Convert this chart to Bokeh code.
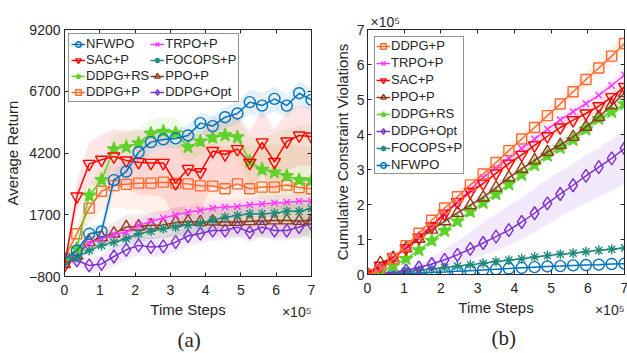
import numpy as np
from bokeh.plotting import figure
from bokeh.models import (Legend, LegendItem, FixedTicker, Title, LinearAxis,
                          Range1d, CustomJSTickFormatter)
from bokeh.layouts import row
from bokeh.embed import file_html
from bokeh.resources import INLINE

FONT = "Liberation Sans"
SERIF = "Liberation Serif"
AX = "#262626"

# ---------------- data ----------------
steps = [0, 35000, 70000, 105000, 140000, 175000, 210000, 245000, 280000, 315000,
         350000, 385000, 420000, 455000, 490000, 525000, 560000, 595000, 630000,
         665000, 700000]
x_ticks = [0, 100000, 200000, 300000, 400000, 500000, 600000, 700000]
x_tick_labels = ["0", "1", "2", "3", "4", "5", "6", "7"]
ret_ticks = [-800, 1700, 4200, 6700, 9200]
viol_ticks = [0, 1, 2, 3, 4, 5, 6, 7]

# (a) Average return
ret_nfwpo = [-100, 250, 930, 1020, 3100, 3450, 4230, 4640, 4750, 4790, 4910, 5410, 5290,
             5650, 5800, 6260, 6120, 6390, 6120, 6620, 6350]
ret_sac = [-350, 2440, 3760, 3930, 4060, 3900, 3830, 3800, 3800, 2980, 3560, 3420, 4280,
           4140, 4360, 3800, 4630, 3840, 4670, 4910, 4870]
ret_ddpgrs = [-150, 330, 2480, 3110, 4360, 4440, 4600, 4990, 5070, 5010, 4440, 4670, 4830,
              4920, 4840, 3860, 3530, 3420, 3270, 3110, 3090]
ret_ddpgp = [-50, 930, 1970, 2650, 2880, 2930, 2980, 2980, 3020, 2980, 2950, 2870, 2860,
             2750, 2950, 2750, 2820, 2820, 2900, 2800, 2750]
ret_trpo = [-200, 250, 540, 740, 900, 990, 1270, 1430, 1570, 1690, 1800, 1870, 1970, 2010,
            2030, 2100, 2140, 2180, 2210, 2250, 2250]
ret_focops = [-250, -30, 250, 460, 590, 730, 930, 1030, 1130, 1200, 1290, 1350, 1490, 1600,
              1670, 1740, 1740, 1760, 1840, 1840, 1940]
ret_ppo = [-300, 50, 590, 790, 940, 1200, 1220, 1270, 1290, 1390, 1430, 1410, 1430, 1410,
           1410, 1440, 1450, 1470, 1470, 1450, 1470]
ret_opt = [-200, -150, -350, -290, 10, 280, 460, 390, 420, 590, 840, 940, 1060, 1060, 1200,
           990, 1200, 1060, 1060, 1200, 1330]

sd_nfwpo = [50, 150, 300, 350, 450, 450, 450, 450, 400, 400, 400, 450, 400, 450, 450, 500,
            500, 500, 450, 500, 450]
sd_sac = [100, 600, 900, 1000, 1100, 1200, 1300, 1300, 1400, 1400, 1500, 1500, 1400, 1400,
          1400, 1300, 1300, 1300, 1200, 1200, 1200]
sd_ddpgrs = [100, 300, 500, 600, 600, 600, 600, 600, 600, 600, 600, 600, 600, 700, 800, 1000,
             1300, 1600, 1900, 2200, 2300]
sd_ddpgp = [100, 300, 600, 800, 900, 1000, 1100, 1200, 1300, 1500, 1600, 1700, 1700, 1700,
            1700, 1700, 1700, 1700, 1700, 1700, 1700]
sd_trpo = [100, 150, 200, 250, 250, 300, 300, 300, 300, 300, 300, 300, 300, 300, 300, 300,
           300, 300, 300, 300, 300]
sd_focops = [100, 150, 200, 250, 300, 300, 350, 350, 350, 350, 400, 400, 400, 400, 400, 400,
             400, 400, 400, 400, 400]
sd_ppo = [100, 200, 300, 400, 450, 500, 500, 550, 550, 600, 600, 600, 600, 600, 600, 600,
          650, 650, 700, 700, 700]
sd_opt = [100, 200, 300, 350, 400, 400, 400, 400, 400, 400, 400, 400, 400, 400, 400, 400,
          400, 400, 400, 400, 400]

# (b) Cumulative constraint violations (x 1e5)
viol_ddpgp = [0, 0.1, 0.45, 0.82, 1.18, 1.55, 1.9, 2.22, 2.56, 2.87, 3.2, 3.54, 3.87, 4.2,
              4.54, 4.87, 5.22, 5.57, 5.9, 6.24, 6.6]
viol_trpo = [0, 0.2, 0.47, 0.75, 1.07, 1.4, 1.75, 2.05, 2.42, 2.77, 3.05, 3.32, 3.6, 3.87,
             4.15, 4.42, 4.65, 4.88, 5.12, 5.4, 5.7]
viol_sac = [0, 0.25, 0.5, 0.75, 1.05, 1.38, 1.74, 2.07, 2.36, 2.6, 2.89, 3.17, 3.42, 3.69,
            3.95, 4.2, 4.41, 4.6, 4.81, 5.07, 5.36]
viol_ppo = [0, 0.33, 0.48, 0.75, 1.02, 1.28, 1.52, 1.76, 1.98, 2.2, 2.48, 2.77, 3.02, 3.26,
            3.5, 3.7, 3.93, 4.22, 4.5, 4.84, 5.18]
viol_ddpgrs = [0, 0.08, 0.25, 0.45, 0.7, 0.97, 1.25, 1.52, 1.8, 2.05, 2.3, 2.58, 2.85, 3.13,
               3.4, 3.62, 3.85, 4.15, 4.45, 4.65, 4.87]
viol_opt = [0, 0.02, 0.06, 0.12, 0.2, 0.3, 0.42, 0.56, 0.73, 0.9, 1.08, 1.27, 1.5, 1.75, 2.03,
            2.3, 2.55, 2.82, 3.07, 3.32, 3.6]
viol_focops = [0, 0.02, 0.05, 0.08, 0.12, 0.16, 0.2, 0.24, 0.28, 0.32, 0.37, 0.41, 0.45, 0.5,
               0.54, 0.58, 0.61, 0.65, 0.69, 0.72, 0.76]
viol_nfwpo = [0, 0.01, 0.02, 0.03, 0.04, 0.06, 0.07, 0.09, 0.11, 0.13, 0.15, 0.17, 0.19, 0.21,
              0.23, 0.24, 0.26, 0.27, 0.28, 0.3, 0.31]

vsd_ddpgp = [0, 0.03, 0.05, 0.07, 0.09, 0.1, 0.12, 0.13, 0.14, 0.15, 0.16, 0.17, 0.18, 0.19,
             0.2, 0.21, 0.22, 0.23, 0.24, 0.25, 0.26]
vsd_trpo = [0, 0.02, 0.04, 0.05, 0.06, 0.07, 0.08, 0.09, 0.1, 0.1, 0.11, 0.11, 0.12, 0.12,
            0.13, 0.13, 0.14, 0.14, 0.15, 0.15, 0.16]
vsd_sac = [0, 0.03, 0.05, 0.06, 0.07, 0.08, 0.09, 0.1, 0.11, 0.12, 0.12, 0.13, 0.13, 0.14,
           0.14, 0.15, 0.15, 0.16, 0.16, 0.17, 0.17]
vsd_ppo = [0, 0.03, 0.05, 0.06, 0.07, 0.08, 0.09, 0.1, 0.11, 0.12, 0.12, 0.13, 0.13, 0.14,
           0.14, 0.15, 0.15, 0.16, 0.16, 0.17, 0.17]
vsd_ddpgrs = [0, 0.02, 0.03, 0.04, 0.05, 0.06, 0.07, 0.07, 0.08, 0.08, 0.09, 0.09, 0.1, 0.1,
              0.11, 0.11, 0.12, 0.12, 0.13, 0.13, 0.14]
vsd_opt_hi = [0, 0, 0.02, 0.05, 0.1, 0.2, 0.3, 0.4, 0.5, 0.6, 0.65, 0.7, 0.7, 0.7, 0.7, 0.65,
              0.6, 0.6, 0.55, 0.55, 0.52]
vsd_opt_lo = [0, 0, 0.02, 0.05, 0.1, 0.15, 0.2, 0.25, 0.3, 0.35, 0.4, 0.45, 0.5, 0.55, 0.6,
              0.65, 0.7, 0.8, 0.85, 0.95, 1.0]
vsd_focops = [0, 0.01, 0.01, 0.02, 0.02, 0.02, 0.03, 0.03, 0.03, 0.03, 0.04, 0.04, 0.04, 0.04,
              0.05, 0.05, 0.05, 0.05, 0.06, 0.06, 0.06]
vsd_nfwpo = [0, 0, 0.01, 0.01, 0.01, 0.01, 0.01, 0.01, 0.01, 0.01, 0.01, 0.02, 0.02, 0.02,
             0.02, 0.02, 0.02, 0.02, 0.02, 0.02, 0.02]

# ---------------- styles ----------------
C = {
    "NFWPO": "#0072BD", "SAC+P": "#FF0000", "DDPG+RS": "#5FD22A", "DDPG+P": "#FF6A2E",
    "TRPO+P": "#FF38FF", "FOCOPS+P": "#21897A", "PPO+P": "#8C3A1A", "DDPG+Opt": "#7E2FD3",
}
M = {
    "NFWPO": ("circle", False, 11), "SAC+P": ("inverted_triangle", False, 12),
    "DDPG+RS": ("star", True, 14), "DDPG+P": ("square", False, 10),
    "TRPO+P": ("x", False, 9), "FOCOPS+P": ("asterisk", False, 10),
    "PPO+P": ("triangle", False, 12), "DDPG+Opt": ("diamond", False, 13),
}


def base_fig(fw, fh, yr, left, right, top, bottom):
    p = figure(frame_width=fw, frame_height=fh, x_range=Range1d(0, 700000), y_range=yr,
               output_backend="svg", toolbar_location=None,
               min_border_left=left, min_border_right=right,
               min_border_top=top, min_border_bottom=bottom)
    p.grid.visible = False
    p.outline_line_color = AX
    p.outline_line_width = 1
    p.outline_line_alpha = 1
    p.background_fill_color = "white"
    p.border_fill_color = "white"
    return p


def style_axis(ax, ticks, overrides=None, blank=False):
    ax.ticker = FixedTicker(ticks=ticks)
    ax.minor_tick_line_color = None
    ax.major_tick_in = 4
    ax.major_tick_out = 0
    ax.major_tick_line_color = AX
    ax.axis_line_color = AX
    ax.major_label_text_font = FONT
    ax.major_label_text_font_size = "14px"
    ax.major_label_text_color = AX
    ax.axis_label_text_font = FONT
    ax.axis_label_text_font_size = "15px"
    ax.axis_label_text_font_style = "normal"
    ax.axis_label_text_color = AX
    if overrides:
        ax.major_label_overrides = overrides
    if blank:
        ax.formatter = CustomJSTickFormatter(code="return ''")
        ax.major_label_standoff = 0


def add_band(p, name, lo, hi):
    p.varea(x=steps, y1=lo, y2=hi, fill_color=C[name], fill_alpha=0.1)


def add_lines(p, name, y):
    col = C[name]
    marker, filled, size = M[name]
    ln = p.line(steps, y, line_color=col, line_width=1.5)
    sc = p.scatter(steps, y, marker=marker, size=size, line_color=col, line_width=1.4,
                   fill_color=col if filled else None)
    return [ln, sc]


def title(p, text, place, align, size, font=FONT, standoff=0, offset=0, valign="bottom"):
    p.add_layout(Title(text=text, align=align, text_font=font, text_font_size=size,
                       text_font_style="normal", text_color=AX, standoff=standoff,
                       offset=offset, vertical_align=valign), place)


xover = {t: l for t, l in zip(x_ticks, x_tick_labels)}

# ---------------- (a) ----------------
p1 = base_fig(247, 247, Range1d(-800, 9200), 61, 12, 29, 77)
p1.xaxis.axis_label = "Time Steps"
p1.yaxis.axis_label = "Average Return"
style_axis(p1.xaxis[0], x_ticks, xover)
style_axis(p1.yaxis[0], ret_ticks)
p1.xaxis.major_label_standoff = 8
p1.yaxis.major_label_standoff = 4
p1.xaxis.axis_label_standoff = 3
p1.yaxis.axis_label_standoff = 5
ax_top = LinearAxis()
style_axis(ax_top, x_ticks, blank=True)
p1.add_layout(ax_top, "above")
ax_r = LinearAxis()
style_axis(ax_r, ret_ticks, blank=True)
p1.add_layout(ax_r, "right")

left_series = [
    ("DDPG+Opt", ret_opt, sd_opt), ("PPO+P", ret_ppo, sd_ppo),
    ("FOCOPS+P", ret_focops, sd_focops), ("TRPO+P", ret_trpo, sd_trpo),
    ("DDPG+P", ret_ddpgp, sd_ddpgp), ("DDPG+RS", ret_ddpgrs, sd_ddpgrs),
    ("SAC+P", ret_sac, sd_sac), ("NFWPO", ret_nfwpo, sd_nfwpo),
]
for name, y, sd in left_series:
    ya, sa = np.array(y, float), np.array(sd, float)
    add_band(p1, name, ya - sa, ya + sa)
rend1 = {}
for name, y, sd in left_series:
    rend1[name] = add_lines(p1, name, y)

order1 = ["NFWPO", "SAC+P", "DDPG+RS", "DDPG+P", "TRPO+P", "FOCOPS+P", "PPO+P", "DDPG+Opt"]
leg1 = Legend(items=[LegendItem(label=n, renderers=rend1[n]) for n in order1],
              location="top_left", ncols=2)
p1.add_layout(leg1)

title(p1, "×10⁵", "below", "right", "14px", standoff=-34, offset=0, valign="top")
title(p1, "(a)", "below", "left", "21px", font=SERIF, standoff=15, offset=113, valign="top")

# ---------------- (b) ----------------
p2 = base_fig(257, 245, Range1d(0, 7), 44, 6, 29, 79)
p2.xaxis.axis_label = "Time Steps"
p2.yaxis.axis_label = "Cumulative Constraint Violations"
style_axis(p2.xaxis[0], x_ticks, xover)
style_axis(p2.yaxis[0], viol_ticks)
p2.xaxis.major_label_standoff = 8
p2.yaxis.major_label_standoff = 3
p2.xaxis.axis_label_standoff = 3
p2.yaxis.axis_label_standoff = 3
ax_top2 = LinearAxis()
style_axis(ax_top2, x_ticks, blank=True)
p2.add_layout(ax_top2, "above")
ax_r2 = LinearAxis()
style_axis(ax_r2, viol_ticks, blank=True)
p2.add_layout(ax_r2, "right")

right_series = [
    ("NFWPO", viol_nfwpo, vsd_nfwpo, vsd_nfwpo), ("FOCOPS+P", viol_focops, vsd_focops, vsd_focops),
    ("DDPG+Opt", viol_opt, vsd_opt_lo, vsd_opt_hi), ("DDPG+RS", viol_ddpgrs, vsd_ddpgrs, vsd_ddpgrs),
    ("PPO+P", viol_ppo, vsd_ppo, vsd_ppo), ("TRPO+P", viol_trpo, vsd_trpo, vsd_trpo),
    ("SAC+P", viol_sac, vsd_sac, vsd_sac), ("DDPG+P", viol_ddpgp, vsd_ddpgp, vsd_ddpgp),
]
for name, y, lo, hi in right_series:
    ya = np.array(y, float)
    add_band(p2, name, ya - np.array(lo, float), ya + np.array(hi, float))
rend2 = {}
for name, y, lo, hi in right_series:
    rend2[name] = add_lines(p2, name, y)

order2 = ["DDPG+P", "TRPO+P", "SAC+P", "PPO+P", "DDPG+RS", "DDPG+Opt", "FOCOPS+P", "NFWPO"]
leg2 = Legend(items=[LegendItem(label=n, renderers=rend2[n]) for n in order2],
              location="top_left")
p2.add_layout(leg2)

title(p2, "×10⁵", "above", "left", "14px", standoff=0, offset=3)
title(p2, "×10⁵", "below", "right", "14px", standoff=-34, offset=0, valign="top")
title(p2, "(b)", "below", "left", "21px", font=SERIF, standoff=15, offset=124, valign="top")

for lg, sp, pad, mg in ((leg1, 1, 2, 4), (leg2, 2, 1, 7)):
    lg.label_text_font = FONT
    lg.label_text_font_size = "13px"
    lg.label_text_color = AX
    lg.glyph_width = 14
    lg.glyph_height = 14
    lg.label_height = 14
    lg.label_standoff = 1
    lg.spacing = sp
    lg.padding = pad
    lg.margin = mg
    lg.border_line_color = AX
    lg.border_line_width = 1
    lg.background_fill_alpha = 1

layout = row(p1, p2)
open("out.html", "w").write(file_html(layout, INLINE))
